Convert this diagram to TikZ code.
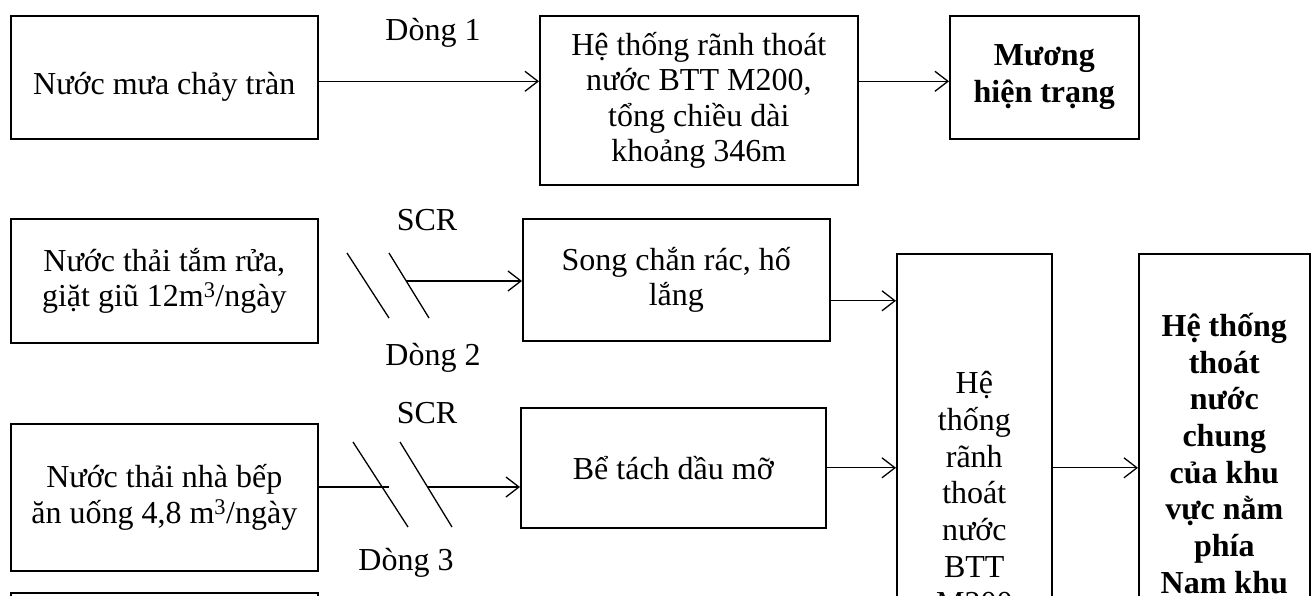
\documentclass[tikz,border=0pt]{standalone}
\usepackage{fontspec}
\setmainfont{Liberation Serif}
\usetikzlibrary{arrows.meta}

\begin{document}
\begin{tikzpicture}[x=1pt,y=-1pt]
\useasboundingbox (0,0) rectangle (1316,596);
\clip (0,0) rectangle (1316,596);
\begin{scope}
\tikzstyle{box}=[draw,rectangle,line width=1.6pt,anchor=north west,align=center,inner sep=2pt,font=\fontsize{32}{35.3}\selectfont]
\tikzstyle{boldbox}=[box,font=\fontsize{32}{36.7}\selectfont\bfseries]
\tikzstyle{tallbox}=[box,font=\fontsize{32}{36.7}\selectfont]
\tikzstyle{lbl}=[font=\fontsize{32}{35.3}\selectfont]
\tikzstyle{flow}=[line width=1.3pt,-{Straight Barb[length=13pt,width=20pt]}]
\tikzstyle{barline}=[line width=1.3pt]
% sources
\node[box,minimum width=307pt,minimum height=123pt,text height=41pt] (src1) at (10,15) {Nước mưa chảy tràn};
\node[box,minimum width=307pt,minimum height=124pt] (src2) at (10,218) {Nước thải tắm rửa,\\giặt giũ 12m\textsuperscript{3}/ngày};
\node[box,minimum width=307pt,minimum height=147pt] (src3) at (10,423) {Nước thải nhà bếp\\ăn uống 4,8 m\textsuperscript{3}/ngày};
\node[box,minimum width=307pt,minimum height=120pt] (src4) at (10,592) {};
% treatment
\node[box,minimum width=307pt,minimum height=122pt] (trt1) at (522,218) {Song chắn rác, hố\\lắng};
\node[box,minimum width=305pt,minimum height=120pt] (trt2) at (520,407) {Bể tách dầu mỡ};
% drains
\node[box,minimum width=318pt,minimum height=169pt] (drn1) at (539,15) {Hệ thống rãnh thoát\\nước BTT M200,\\tổng chiều dài\\khoảng 346m};
\node[tallbox,minimum width=155pt,minimum height=478pt] (drn2) at (896,253) {Hệ\\thống\\rãnh\\thoát\\nước\\BTT\\M200};
% outlets
\node[boldbox,minimum width=189pt,minimum height=123pt] (out1) at (949,15) {Mương\\hiện trạng};
\node[boldbox,minimum width=171pt,minimum height=399pt] (out2) at (1138,253) {Hệ thống\\thoát\\nước\\chung\\của khu\\vực nằm\\phía\\Nam khu};
% labels
\node[lbl] (d1) at (433,33) {Dòng 1};
\node[lbl] (scr2) at (427,220) {SCR};
\node[lbl] (d2) at (433,358) {Dòng 2};
\node[lbl] (scr3) at (427,413) {SCR};
\node[lbl] (d3) at (406,563) {Dòng 3};
% screens
\draw[barline] (347,253) -- (389,318);
\draw[barline] (389,253) -- (429,318);
\draw[barline] (353,442) -- (408,527);
\draw[barline] (400,442) -- (452,527);
\coordinate (c2) at (406,281);
\coordinate (c3a) at (389,487);
\coordinate (c3b) at (427,487);
% flows
\draw[flow] ([yshift=-4pt]src1.east) -- ([yshift=-4pt]src1.east -| drn1.west);
\draw[flow] ([yshift=-4pt]drn1.east |- out1.west) -- ([yshift=-4pt]out1.west);
\draw[flow] (c2) -- (c2 -| trt1.west);
\draw[barline] (src3.east |- c3a) -- (c3a);
\draw[flow] (c3b) -- (c3b -| trt2.west);
\draw[flow] ([yshift=-21pt]trt1.east) -- ([yshift=-21pt]trt1.east -| drn2.west);
\draw[flow] (trt2.east) -- (trt2.east -| drn2.west);
\draw[flow] (drn2.east |- trt2.east) -- (out2.west |- trt2.east);
\end{scope}
\end{tikzpicture}
\end{document}
